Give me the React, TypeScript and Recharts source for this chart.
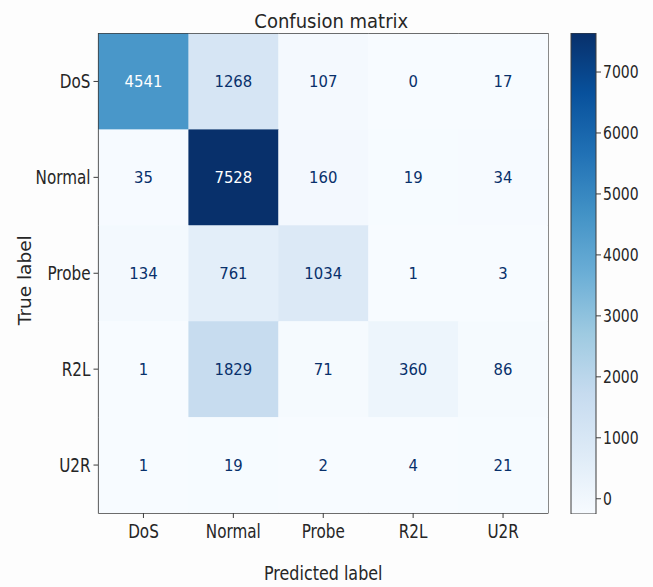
import React from 'react';
import { ScatterChart, Scatter, XAxis, YAxis, ComposedChart, Bar, Label, ReferenceArea } from 'recharts';

const classLabels = ['DoS', 'Normal', 'Probe', 'R2L', 'U2R'];
const dosRow = [4541, 1268, 107, 0, 17];
const normalRow = [35, 7528, 160, 19, 34];
const probeRow = [134, 761, 1034, 1, 3];
const r2lRow = [1, 1829, 71, 360, 86];
const u2rRow = [1, 19, 2, 4, 21];
const colorbarTicks = [0, 1000, 2000, 3000, 4000, 5000, 6000, 7000];
const colorbarRange = [-250, 7640];

// matplotlib "Blues"
const BLUES = ['#f7fbff', '#deebf7', '#c6dbef', '#9ecae1', '#6baed6', '#4292c6', '#2171b5', '#08519c', '#08306b'];

const FONT = '"DejaVu Sans", sans-serif';
const TEXT = '#262626';
const SPINE = '#3c3c3c';

const rows = [dosRow, normalRow, probeRow, r2lRow, u2rRow];
const cells = rows.flatMap((row, r) => row.map((value, c) => ({ col: c, row: r, value })));
const vmax = Math.max(...cells.map((d) => d.value));

const W = 560;
const H = 587;
const M_TOP = 33.5;
const M_RIGHT = 12;
const Y_W = 98.5;
const X_H = 74;
const CELL_W = (W - Y_W - M_RIGHT) / 5;
const CELL_H = (H - M_TOP - X_H) / 5;

function hexToRgb(h: string) {
  return [1, 3, 5].map((i) => parseInt(h.slice(i, i + 2), 16));
}

function blues(t: number): string {
  const x = Math.min(1, Math.max(0, t)) * (BLUES.length - 1);
  const i = Math.min(BLUES.length - 2, Math.floor(x));
  const f = x - i;
  const a = hexToRgb(BLUES[i]);
  const b = hexToRgb(BLUES[i + 1]);
  const c = a.map((v, k) => Math.round(v + (b[k] - v) * f));
  return `rgb(${c[0]},${c[1]},${c[2]})`;
}

// the source picture is squeezed horizontally, so text gets a scaleX
function SqText({ x, y, sx, size, anchor = 'middle', dy = '0', fill = TEXT, children }: any) {
  return (
    <text
      transform={`translate(${x} ${y}) scale(${sx} 1)`}
      x={0}
      y={0}
      dy={dy}
      textAnchor={anchor}
      fontSize={size}
      fontFamily={FONT}
      fill={fill}
    >
      {children}
    </text>
  );
}

const CellShape = (props: any) => {
  const { cx, cy, payload } = props;
  const dark = payload.value > vmax / 2;
  return (
    <g>
      <rect
        x={cx - CELL_W / 2}
        y={cy - CELL_H / 2}
        width={CELL_W + 0.5}
        height={CELL_H + 0.5}
        fill={blues(payload.value / vmax)}
      />
      <SqText x={cx} y={cy} sx={0.9} size={16.5} dy="0.36em" fill={dark ? '#ffffff' : '#08306b'}>
        {payload.value}
      </SqText>
    </g>
  );
};

const XTick = ({ x, y, payload }: any) => (
  <SqText x={x} y={y} sx={0.78} size={19.5} dy="0.71em">
    {classLabels[payload.value]}
  </SqText>
);

const YTick = ({ x, y, payload }: any) => (
  <SqText x={x} y={y} sx={0.78} size={19.5} anchor="end" dy="0.36em">
    {classLabels[payload.value]}
  </SqText>
);

const CbTick = ({ x, y, payload }: any) => (
  <SqText x={x} y={y} sx={0.8} size={17.5} anchor="start" dy="0.36em">
    {payload.value}
  </SqText>
);

export default function App() {
  return (
    <div style={{ position: 'absolute', left: 0, top: 0, width: 653, height: 587, background: '#fdfdfd' }}>
      <div style={{ position: 'absolute', left: 0, top: 0 }}>
        <ScatterChart width={W} height={H} margin={{ top: M_TOP, right: M_RIGHT, bottom: 0, left: 0 }}>
          <XAxis
            xAxisId="b"
            dataKey="col"
            type="number"
            domain={[-0.5, 4.5]}
            ticks={[0, 1, 2, 3, 4]}
            interval={0}
            height={X_H}
            tickSize={5}
            tickMargin={6}
            stroke={SPINE}
            tick={<XTick />}
            allowDataOverflow
          >
            <Label
              content={({ viewBox }: any) => (
                <SqText x={viewBox.x + viewBox.width / 2} y={viewBox.y + 67} sx={0.84} size={19}>
                  Predicted label
                </SqText>
              )}
            />
          </XAxis>
          <YAxis
            yAxisId="l"
            dataKey="row"
            type="number"
            domain={[-0.5, 4.5]}
            reversed
            ticks={[0, 1, 2, 3, 4]}
            interval={0}
            width={Y_W}
            tickSize={5}
            tickMargin={3}
            stroke={SPINE}
            tick={<YTick />}
            allowDataOverflow
          >
            <Label
              content={({ viewBox }: any) => {
                const cx = 24;
                const cy = viewBox.y + viewBox.height / 2 + 7;
                return (
                  <text
                    x={cx}
                    y={cy}
                    dy="0.36em"
                    transform={`rotate(-90, ${cx}, ${cy})`}
                    textAnchor="middle"
                    fontSize={18.5}
                    fontFamily={FONT}
                    fill={TEXT}
                  >
                    True label
                  </text>
                );
              }}
            />
          </YAxis>
          <Scatter
            xAxisId="b"
            yAxisId="l"
            data={cells}
            shape={CellShape}
            isAnimationActive={false}
          />
          <ReferenceArea
            xAxisId="b"
            yAxisId="l"
            x1={-0.5}
            x2={4.5}
            y1={-0.5}
            y2={4.5}
            fill="none"
            fillOpacity={0}
            stroke={SPINE}
            strokeWidth={1.2}
            ifOverflow="visible"
          >
            <Label
              content={({ viewBox }: any) => (
                <SqText x={viewBox.x + viewBox.width / 2 + 8} y={viewBox.y - 6} sx={0.9} size={20}>
                  Confusion matrix
                </SqText>
              )}
            />
          </ReferenceArea>
        </ScatterChart>
      </div>
      <div style={{ position: 'absolute', left: 560, top: 0 }}>
        <ComposedChart
          width={93}
          height={H}
          data={[{ name: 'cb', range: colorbarRange }]}
          margin={{ top: 33, right: 0, bottom: 73, left: 11 }}
          barCategoryGap={0}
        >
          <defs>
            <linearGradient id="cbGrad" x1="0" y1="1" x2="0" y2="0">
              {BLUES.map((c, i) => (
                <stop key={i} offset={`${(i / (BLUES.length - 1)) * 100}%`} stopColor={c} />
              ))}
            </linearGradient>
          </defs>
          <XAxis dataKey="name" hide />
          <YAxis
            orientation="right"
            type="number"
            domain={colorbarRange}
            ticks={colorbarTicks}
            interval={0}
            width={57}
            axisLine={false}
            tickSize={5}
            tickMargin={2}
            stroke={SPINE}
            tick={<CbTick />}
            allowDataOverflow
          />
          <Bar dataKey="range" fill="url(#cbGrad)" stroke={SPINE} strokeWidth={1} isAnimationActive={false} />
        </ComposedChart>
      </div>
    </div>
  );
}
